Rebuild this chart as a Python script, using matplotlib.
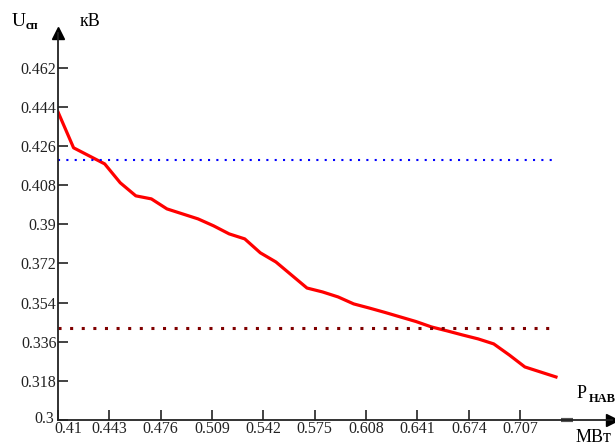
import matplotlib
matplotlib.use("Agg")
import matplotlib.pyplot as plt
import matplotlib.transforms as mtransforms
import numpy as np

plt.rcParams['font.family'] = ['Liberation Serif', 'DejaVu Serif']

# power, MW
p_nav = [0.41, 0.42, 0.43, 0.44, 0.45, 0.46, 0.47, 0.48, 0.49, 0.50,
         0.51, 0.52, 0.53, 0.54, 0.55, 0.56, 0.57, 0.58, 0.59, 0.60,
         0.61, 0.62, 0.63, 0.64, 0.65, 0.66, 0.67, 0.68, 0.69, 0.70,
         0.71, 0.72, 0.73]
# voltage, kV
u_sp = [0.4417, 0.4252, 0.4215, 0.4178, 0.4091, 0.4031, 0.4017, 0.3971, 0.3948, 0.3925,
        0.3893, 0.3856, 0.3833, 0.3769, 0.3727, 0.3667, 0.3607, 0.3589, 0.3566, 0.3534,
        0.3515, 0.3495, 0.3474, 0.3453, 0.3428, 0.3410, 0.3391, 0.3373, 0.3350, 0.3299,
        0.3244, 0.3221, 0.3198]

u_max = 0.4195   # upper limit (blue)
u_min = 0.3425   # lower limit (dark red)

xticks = [0.41, 0.443, 0.476, 0.509, 0.542, 0.575, 0.608, 0.641, 0.674, 0.707]
xlabels = ['0.41', '0.443', '0.476', '0.509', '0.542', '0.575', '0.608', '0.641', '0.674', '0.707']
yticks = [0.3, 0.318, 0.336, 0.354, 0.372, 0.39, 0.408, 0.426, 0.444, 0.462]
ylabels = ['0.3', '0.318', '0.336', '0.354', '0.372', '0.39', '0.408', '0.426', '0.444', '0.462']

fig = plt.figure(figsize=(6.15, 4.45), dpi=100)
ax = fig.add_axes([58/615, 25/445, (612-58)/615, (420-33)/445])

ax.plot(p_nav, u_sp, color='#ff0000', lw=2.3, solid_joinstyle='round')
ax.plot([p_nav[0], p_nav[-1]], [u_max, u_max], color='#0000ff', lw=1.5,
        linestyle=(0, (1, 3)))
ax.plot([p_nav[0], p_nav[-1]], [u_min, u_min], color='#800000', lw=2.2,
        linestyle=(0, (1, 2.8)))

ax.set_xlim(0.41, 0.766)
ax.set_ylim(0.3, 0.478)

for s in ['top', 'right']:
    ax.spines[s].set_visible(False)
ax.spines['left'].set_linewidth(1.3)
ax.spines['bottom'].set_linewidth(1.3)
ax.spines['left'].set_color('#222222')
ax.spines['bottom'].set_color('#222222')
ax.plot(1, 0, ">k", transform=ax.transAxes, clip_on=False, ms=8)
ax.plot(0, 1, "^k", transform=ax.transAxes, clip_on=False, ms=8)
# small thick mark on the x axis
ax.plot([0.733, 0.741], [0.3, 0.3], color='#555555', lw=3, clip_on=False,
        solid_capstyle='butt')

ax.set_xticks(xticks)
ax.set_xticklabels(xlabels)
ax.set_yticks(yticks)
ax.set_yticklabels(ylabels)
ax.tick_params(direction='in', length=7, width=1.2, labelsize=11.5,
               colors='#222222', pad=1)

# first x label sits a bit to the right of its tick, like the original
first = ax.get_xticklabels()[0]
first.set_transform(first.get_transform() +
                    mtransforms.ScaledTranslation(10/100, 0, fig.dpi_scale_trans))
low = ax.get_yticklabels()[0]
low.set_transform(low.get_transform() +
                  mtransforms.ScaledTranslation(-2/100, 3/100, fig.dpi_scale_trans))

fig.text(12/615, 1 - 21/445, 'U', fontsize=14, va='center', ha='left')
fig.text(26/615, 1 - 26/445, 'сп', fontsize=9, fontweight='bold', va='center', ha='left')
fig.text(80/615, 1 - 22/445, 'кВ', fontsize=13, va='center', ha='left')
fig.text(577/615, 1 - 394/445, 'P', fontsize=13, va='center', ha='left')
fig.text(589/615, 1 - 399/445, 'НАВ', fontsize=9, fontweight='bold', va='center', ha='left')
fig.text(576/615, 1 - 438/445, 'МВт', fontsize=13, va='center', ha='left')

fig.savefig('out.png', dpi=100)
